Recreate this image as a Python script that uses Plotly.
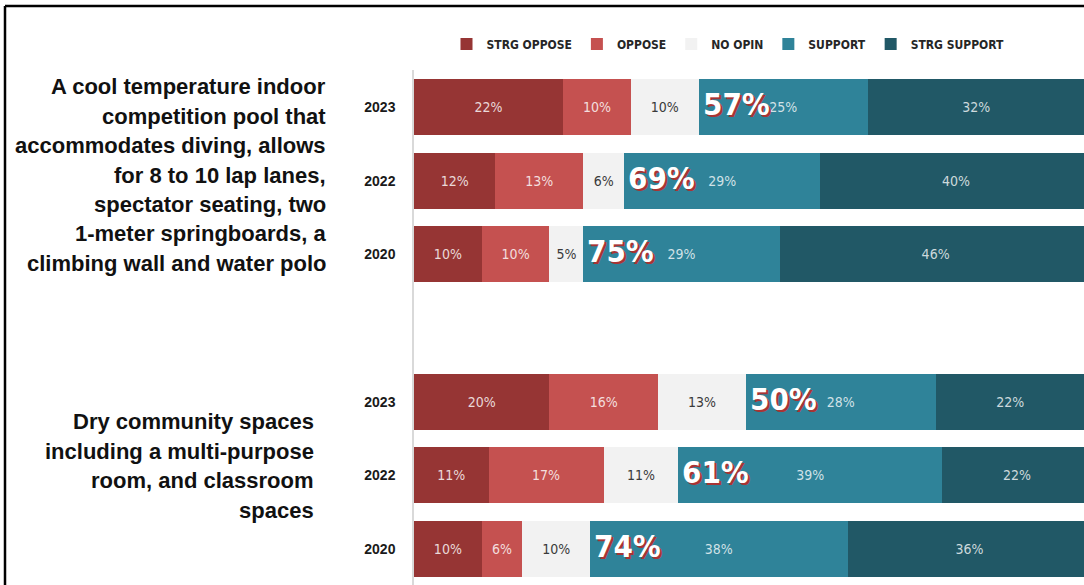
import plotly.graph_objects as go

# ---------------- data ----------------
years = ["2023", "2022", "2020", "2023", "2022", "2020"]
row_pos = [6, 5, 4, 2, 1, 0]          # slot of each row (slot 3 is the gap between groups)
series_names = ["STRG OPPOSE", "OPPOSE", "NO OPIN", "SUPPORT", "STRG SUPPORT"]
strg_oppose = [22, 12, 10, 20, 11, 10]
oppose = [10, 13, 10, 16, 17, 6]
no_opin = [10, 6, 5, 13, 11, 10]
support = [25, 29, 29, 28, 39, 38]
strg_support = [32, 40, 46, 22, 22, 36]
total_support = [57, 69, 75, 50, 61, 74]

group1_lines = ["A cool temperature indoor", "competition pool that",
                "accommodates diving, allows", "for 8 to 10 lap lanes,",
                "spectator seating, two", "1-meter springboards, a",
                "climbing wall and water polo"]
group2_lines = ["Dry community spaces", "including a multi-purpose",
                "room, and classroom", "spaces"]

# ---------------- style ----------------
colors = ["#963534", "#c55150", "#f2f2f2", "#2f8399", "#215866"]
text_colors = ["rgba(255,255,255,0.82)", "rgba(255,255,255,0.82)", "#3a3a3a",
               "rgba(255,255,255,0.78)", "rgba(255,255,255,0.78)"]
NARROW = "DejaVu Sans Condensed, Liberation Sans Narrow, Liberation Sans, sans-serif"
BOLD = "Liberation Sans, Arial, sans-serif"

W, H = 1084, 585
ML, MT = 414, 70
PW, PH = W - ML, H - MT

fig = go.Figure()
for name, vals, col, tcol in zip(series_names,
                                 [strg_oppose, oppose, no_opin, support, strg_support],
                                 colors, text_colors):
    fig.add_trace(go.Bar(
        name=name, y=row_pos, x=vals, orientation="h",
        marker=dict(color=col, line=dict(width=0)),
        width=0.76,
        text=[f"{v}%" for v in vals], textposition="inside",
        insidetextanchor="middle", constraintext="none",
        textfont=dict(family=NARROW, size=14, color=tcol),
        hoverinfo="skip",
    ))

# big total-support numbers
for i, pos in enumerate(row_pos):
    start = strg_oppose[i] + oppose[i] + no_opin[i]
    fig.add_annotation(
        x=start, y=pos, xref="x", yref="y", xanchor="left", yanchor="middle",
        xshift=2, yshift=3, showarrow=False,
        text=f"<b>{total_support[i]}%</b>",
        font=dict(family=NARROW, size=31, color="white", shadow="2px 2px 0px #a83434"),
    )

# group labels (one annotation per line, right aligned)
LS = 29.4
g1_right = (328 - ML) / PW
g2_right = (316 - ML) / PW
for i, line in enumerate(group1_lines):
    py = 175 + (i - 3) * LS
    fig.add_annotation(x=g1_right, y=(H - py) / PH, xref="paper", yref="paper",
                       xanchor="right", yanchor="middle", showarrow=False,
                       text=f"<b>{line}</b>",
                       font=dict(family=BOLD, size=22, color="#111111"))
for i, line in enumerate(group2_lines):
    py = 466 + (i - 1.5) * LS
    fig.add_annotation(x=g2_right, y=(H - py) / PH, xref="paper", yref="paper",
                       xanchor="right", yanchor="middle", showarrow=False,
                       text=f"<b>{line}</b>",
                       font=dict(family=BOLD, size=22, color="#111111"))

# outer frame (top and left edges)
fx = (5 - ML) / PW
fy = (H - 6) / PH
fig.add_shape(type="line", xref="paper", yref="paper", x0=fx, x1=1.01, y0=fy, y1=fy,
              line=dict(color="black", width=2.5))
fig.add_shape(type="line", xref="paper", yref="paper", x0=fx, x1=fx, y0=fy, y1=-0.02,
              line=dict(color="black", width=2.5))

fig.update_layout(
    width=W, height=H, barmode="stack",
    margin=dict(l=ML, r=0, t=MT, b=0, pad=0),
    paper_bgcolor="white", plot_bgcolor="white",
    showlegend=True,
    legend=dict(orientation="h", xref="paper", yref="paper",
                x=(728 - ML) / PW, y=(H - 44) / PH, xanchor="center", yanchor="middle",
                font=dict(family=NARROW, size=12, color="#262626", weight="bold"),
                itemwidth=30, traceorder="normal", bgcolor="rgba(0,0,0,0)"),
    xaxis=dict(range=[0, 98.9], showgrid=False, zeroline=False, showticklabels=False,
               showline=False, fixedrange=True),
    yaxis=dict(range=[-0.489, 6.502], tickvals=row_pos, ticktext=years,
               showgrid=False, zeroline=False, showline=True, linecolor="#d9d9d9",
               linewidth=1.5, ticks="", ticklabelstandoff=14,
               tickfont=dict(family=BOLD, size=14, color="#1a1a1a", weight="bold"),
               fixedrange=True),
    bargap=0.24,
)

fig.write_html("out.html", config={"displayModeBar": False},
               post_script="document.body.style.margin='0';")
